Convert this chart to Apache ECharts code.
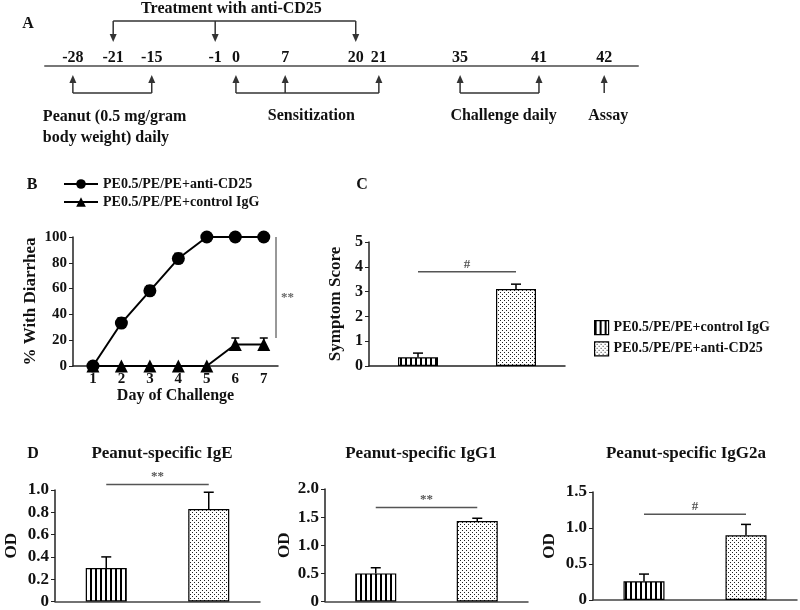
<!DOCTYPE html>
<html><head><meta charset="utf-8">
<script src="https://cdn.jsdelivr.net/npm/echarts@6/dist/echarts.min.js"></script>
<style>html,body{margin:0;background:#fff}#c{width:800px;height:610px}</style>
</head><body><div id="c"></div>
<script>
// ================= DATA =================
const N_ANTI = 'PE0.5/PE/PE+anti-CD25';
const N_CTRL = 'PE0.5/PE/PE+control IgG';

// Panel A (protocol timeline)
const timelineDays = [-28, -21, -15, -1, 0, 7, 20, 21, 35, 41, 42];
const treatmentTitle = 'Treatment with anti-CD25';
const treatmentDays = [-21, -1, 20];
const phaseNames = ['Peanut (0.5 mg/gram\nbody weight) daily', 'Sensitization', 'Challenge daily', 'Assay'];
const phaseDays = [[-28, -15], [0, 7, 21], [35, 41], [42]];

// Panel B
const challengeDays = [1, 2, 3, 4, 5, 6, 7];
const diarrheaAnti = [0, 33.3, 58.3, 83.3, 100, 100, 100];
const diarrheaAntiErr = [0, 4, 4, 4, 0, 0, 0];
const diarrheaCtrl = [0, 0, 0, 0, 0, 16.7, 16.7];
const diarrheaCtrlErr = [0, 0, 0, 0, 0, 5, 5];

// Panel C
const symptomMean = [0.35, 3.1];   // [control IgG, anti-CD25]
const symptomErr = [0.17, 0.2];

// Panel D
const igTitles = ['Peanut-specific IgE', 'Peanut-specific IgG1', 'Peanut-specific IgG2a'];
const igMean = [[0.30, 0.83], [0.50, 1.43], [0.26, 0.90]];
const igErr = [[0.10, 0.15], [0.10, 0.05], [0.10, 0.15]];
const igMax = [1.0, 2.0, 1.5];
const igStep = [0.2, 0.5, 0.5];

// Significance marks: B, C, IgE, IgG1, IgG2a
const sigMarks = ['**', '#', '**', '**', '#'];
const sigLevels = [null, 3.8, 1.05, 1.67, 1.19];

// ================= LAYOUT / STYLE =================
const FONT = 'Liberation Serif';
const TXT = '#111';
// schematic placement of each day along the drawn timeline (0-100 units)
const A_SLOT = {'-28': 4.7, '-21': 11.5, '-15': 18.0, '-1': 28.7, '0': 32.2, '7': 40.5,
                '20': 52.4, '21': 56.3, '35': 70.0, '41': 83.3, '42': 94.3};
const GRIDS = [
  {left: 45, top: 20, width: 593, height: 46},    // A
  {left: 73, top: 237, width: 205, height: 129},  // B
  {left: 369, top: 242, width: 196, height: 124}, // C
  {left: 55, top: 490, width: 205, height: 113},  // D IgE
  {left: 325, top: 489, width: 203, height: 114}, // D IgG1
  {left: 593, top: 492, width: 204, height: 108}  // D IgG2a
];

function makeStripe() {
  const c = document.createElement('canvas'); c.width = 5; c.height = 5;
  const g = c.getContext('2d'); g.fillStyle = '#fff'; g.fillRect(0, 0, 5, 5);
  g.fillStyle = '#000'; g.fillRect(0, 0, 2, 5); return c;
}
function makeDots() {
  const c = document.createElement('canvas'); c.width = 4; c.height = 4;
  const g = c.getContext('2d'); g.fillStyle = '#fff'; g.fillRect(0, 0, 4, 4);
  g.fillStyle = '#222'; g.fillRect(0, 0, 1, 1); g.fillRect(2, 2, 1, 1); return c;
}
const stripeFill = {image: makeStripe(), repeat: 'repeat'};
const dotFill = {image: makeDots(), repeat: 'repeat'};
const barStyleCtrl = {color: stripeFill, borderColor: '#000', borderWidth: 1.2};
const barStyleAnti = {color: dotFill, borderColor: '#000', borderWidth: 1.2};

const boldText = (size) => ({fontFamily: FONT, fontWeight: 'bold', fontSize: size, color: TXT});
const fmt1 = v => v === 0 ? '0' : v.toFixed(1);

// ================= AXES =================
const xAxes = [], yAxes = [];
const slotValues = timelineDays.map(d => A_SLOT[String(d)]);
// A
xAxes.push({gridIndex: 0, type: 'value', min: 0, max: 100,
  axisLine: {lineStyle: {color: '#777', width: 2}}, axisTick: {show: false}, splitLine: {show: false},
  axisLabel: Object.assign({inside: true, margin: 0, customValues: slotValues,
    formatter: v => { const i = slotValues.indexOf(v); return i >= 0 ? String(timelineDays[i]) : ''; }}, boldText(16))});
yAxes.push({gridIndex: 0, type: 'value', min: 0, max: 1, show: false});
// B
xAxes.push({gridIndex: 1, type: 'value', min: 0.3, max: 7.5,
  axisLine: {lineStyle: {color: '#222', width: 1.5}}, axisTick: {show: false}, splitLine: {show: false},
  axisLabel: Object.assign({customValues: challengeDays, margin: 6}, boldText(15)),
  name: 'Day of Challenge', nameLocation: 'middle', nameGap: 22, nameTextStyle: boldText(16)});
yAxes.push({gridIndex: 1, type: 'value', min: 0, max: 100, interval: 20,
  axisLine: {show: true, lineStyle: {color: '#222', width: 1.5}}, axisTick: {show: true, length: 4, lineStyle: {color: '#222'}},
  splitLine: {show: false}, axisLabel: Object.assign({margin: 6}, boldText(15)),
  name: '% With Diarrhea', nameLocation: 'middle', nameRotate: 90, nameGap: 34, nameTextStyle: boldText(17)});
// C
xAxes.push({gridIndex: 2, type: 'category', data: [N_CTRL, N_ANTI],
  axisLine: {lineStyle: {color: '#222', width: 1.5}}, axisTick: {show: false}, axisLabel: {show: false}});
yAxes.push({gridIndex: 2, type: 'value', min: 0, max: 5, interval: 1,
  axisLine: {show: true, lineStyle: {color: '#222', width: 1.5}}, axisTick: {show: true, length: 4, lineStyle: {color: '#222'}},
  splitLine: {show: false}, axisLabel: Object.assign({margin: 6}, boldText(16)),
  name: 'Symptom Score', nameLocation: 'middle', nameRotate: 90, nameGap: 25, nameTextStyle: boldText(17)});
// D
const odGaps = [35, 32, 35];
for (let k = 0; k < 3; k++) {
  xAxes.push({gridIndex: 3 + k, type: 'category', data: [N_CTRL, N_ANTI],
    axisLine: {lineStyle: {color: '#444', width: 1.5}}, axisTick: {show: false}, axisLabel: {show: false}});
  yAxes.push({gridIndex: 3 + k, type: 'value', min: 0, max: igMax[k], interval: igStep[k],
    axisLine: {show: true, lineStyle: {color: '#222', width: 1.5}}, axisTick: {show: true, length: 4, lineStyle: {color: '#222'}},
    splitLine: {show: false}, axisLabel: Object.assign({margin: 6, formatter: fmt1}, boldText(17)),
    name: 'OD', nameLocation: 'middle', nameRotate: 90, nameGap: odGaps[k], nameTextStyle: boldText(17)});
}

// ================= SERIES =================
const series = [];
// B lines (first so legend B uses line icons)
series.push({type: 'line', name: N_ANTI, xAxisIndex: 1, yAxisIndex: 1, z: 3,
  data: challengeDays.map((d, i) => [d, diarrheaAnti[i]]), symbol: 'circle', symbolSize: 13,
  itemStyle: {color: '#000'}, lineStyle: {color: '#000', width: 2}});
series.push({type: 'line', name: N_CTRL, xAxisIndex: 1, yAxisIndex: 1, z: 3,
  data: challengeDays.map((d, i) => [d, diarrheaCtrl[i]]), symbol: 'triangle', symbolSize: 13,
  itemStyle: {color: '#000'}, lineStyle: {color: '#000', width: 2}});

function errorSeries(axisIdx, points, capHalf) {
  return {type: 'custom', xAxisIndex: axisIdx, yAxisIndex: axisIdx, z: 1, clip: false, silent: true,
    data: points,
    renderItem: (params, api) => {
      const x = api.value(0), top = api.value(1), err = api.value(2);
      if (!err) return null;
      const p0 = api.coord([x, top]), p1 = api.coord([x, top + err]);
      const st = {stroke: '#000', lineWidth: 1.5};
      return {type: 'group', children: [
        {type: 'line', shape: {x1: p0[0], y1: p0[1], x2: p1[0], y2: p1[1]}, style: st},
        {type: 'line', shape: {x1: p1[0] - capHalf, y1: p1[1], x2: p1[0] + capHalf, y2: p1[1]}, style: st}]};
    }};
}
series.push(errorSeries(1, challengeDays.map((d, i) => [d, diarrheaAnti[i], diarrheaAntiErr[i]]), 4));
series.push(errorSeries(1, challengeDays.map((d, i) => [d, diarrheaCtrl[i], diarrheaCtrlErr[i]]), 4));

// B significance (vertical bar right of last day)
{
  const last = challengeDays.length - 1;
  series.push({type: 'custom', xAxisIndex: 1, yAxisIndex: 1, clip: false, silent: true,
    data: [[challengeDays[last] + 0.43, diarrheaAnti[last], diarrheaCtrl[last] + diarrheaCtrlErr[last]]],
    renderItem: (params, api) => {
      const a = api.coord([api.value(0), api.value(1)]), b = api.coord([api.value(0), api.value(2)]);
      return {type: 'group', children: [
        {type: 'line', shape: {x1: a[0], y1: a[1], x2: b[0], y2: b[1]}, style: {stroke: '#777', lineWidth: 1.5}},
        {type: 'text', x: a[0] + 5, y: (a[1] + b[1]) / 2 + 10,
          style: {text: sigMarks[0], fill: '#666', font: 'bold 13px ' + FONT, align: 'left', verticalAlign: 'middle'}}]};
    }});
}

function barPair(axisIdx, mean, barW) {
  return [
    {type: 'bar', name: N_CTRL, xAxisIndex: axisIdx, yAxisIndex: axisIdx, data: [mean[0], '-'],
      barWidth: barW, barGap: '-100%', itemStyle: barStyleCtrl, silent: true},
    {type: 'bar', name: N_ANTI, xAxisIndex: axisIdx, yAxisIndex: axisIdx, data: ['-', mean[1]],
      barWidth: barW, barGap: '-100%', itemStyle: barStyleAnti, silent: true}];
}
function sigSeries(axisIdx, level, mark) {
  return {type: 'custom', xAxisIndex: axisIdx, yAxisIndex: axisIdx, clip: false, silent: true,
    data: [[0, level, 1]],
    renderItem: (params, api) => {
      const a = api.coord([api.value(0), api.value(1)]), b = api.coord([api.value(2), api.value(1)]);
      return {type: 'group', children: [
        {type: 'line', shape: {x1: a[0], y1: a[1], x2: b[0], y2: b[1]}, style: {stroke: '#555', lineWidth: 1.5}},
        {type: 'text', x: (a[0] + b[0]) / 2, y: a[1] - 1,
          style: {text: mark, fill: '#555', font: 'bold 13px ' + FONT, align: 'center', verticalAlign: 'bottom'}}]};
    }};
}
// C
series.push(...barPair(2, symptomMean, 40));
series.push(errorSeries(2, [[0, symptomMean[0], symptomErr[0]], [1, symptomMean[1], symptomErr[1]]], 5));
series.push(sigSeries(2, sigLevels[1], sigMarks[1]));
// D
for (let k = 0; k < 3; k++) {
  series.push(...barPair(3 + k, igMean[k], 41));
  series.push(errorSeries(3 + k, [[0, igMean[k][0], igErr[k][0]], [1, igMean[k][1], igErr[k][1]]], 5));
  series.push(sigSeries(3 + k, sigLevels[2 + k], sigMarks[2 + k]));
}

// A: protocol schematic, placed on the timeline axis
series.push({type: 'custom', xAxisIndex: 0, yAxisIndex: 0, clip: false, silent: true, data: [[0, 0]],
  renderItem: (params, api) => {
    const base = api.coord([0, 0])[1];
    const X = d => api.coord([A_SLOT[String(d)], 0])[0];
    const stroke = '#333';
    const kids = [];
    const ln = (x1, y1, x2, y2) => kids.push({type: 'line', shape: {x1, y1, x2, y2}, style: {stroke, lineWidth: 1.5}});
    const head = (x, y, dir) => kids.push({type: 'polygon',
      shape: {points: [[x, y], [x - 3.5, y - 8 * dir], [x + 3.5, y - 8 * dir]]}, style: {fill: stroke}});
    const txt = (x, y, t, align, va, lh) => kids.push({type: 'text', x, y,
      style: {text: t, fill: TXT, font: 'bold 16px ' + FONT, align, verticalAlign: va, lineHeight: lh || 18}});
    // treatment bracket above
    const tx = treatmentDays.map(X);
    const yTop = base - 45, yTipD = base - 24;
    ln(tx[0], yTop, tx[tx.length - 1], yTop);
    tx.forEach(x => { ln(x, yTop, x, yTipD - 6); head(x, yTipD, 1); });
    txt((tx[0] + tx[tx.length - 1]) / 2 - 3, base - 57, treatmentTitle, 'center', 'middle');
    // phases below
    const yB = base + 27, yTipU = base + 9;
    phaseDays.forEach((days, i) => {
      const xs = days.map(X);
      if (xs.length > 1) ln(xs[0], yB, xs[xs.length - 1], yB);
      xs.forEach(x => { ln(x, yB, x, yTipU + 6); head(x, yTipU, -1); });
      const mid = (xs[0] + xs[xs.length - 1]) / 2;
      if (phaseNames[i].indexOf('\n') >= 0) txt(xs[0] - 30, base + 40, phaseNames[i], 'left', 'top', 21);
      else txt(mid + 4, base + 50, phaseNames[i], 'center', 'middle');
    });
    return {type: 'group', children: kids};
  }});

// ================= GRAPHIC TEXT (panel letters, panel D titles) =================
const letters = [['A', 28, 24], ['B', 32, 185], ['C', 362, 185], ['D', 33, 454]];
const titleX = [162, 421, 686];
const graphic = letters.map(([t, x, y]) => ({type: 'text', x, y,
  style: {text: t, fill: TXT, font: 'bold 16px ' + FONT, align: 'center', verticalAlign: 'middle'}}))
  .concat(igTitles.map((t, k) => ({type: 'text', x: titleX[k], y: 454,
  style: {text: t, fill: TXT, font: 'bold 17px ' + FONT, align: 'center', verticalAlign: 'middle'}})));

const chart = echarts.init(document.getElementById('c'), null, {renderer: 'canvas'});
chart.setOption({
  animation: false,
  backgroundColor: '#fff',
  grid: GRIDS,
  xAxis: xAxes,
  yAxis: yAxes,
  legend: [
    {data: [N_ANTI, N_CTRL], left: 63, top: 177, orient: 'vertical', itemWidth: 34, itemHeight: 12,
      itemGap: 4, padding: 0, selectedMode: false, textStyle: boldText(14)},
    {data: [{name: N_CTRL, icon: 'rect', itemStyle: barStyleCtrl}, {name: N_ANTI, icon: 'rect', itemStyle: barStyleAnti}],
      left: 594, top: 320, orient: 'vertical', itemWidth: 14, itemHeight: 14, itemGap: 6, padding: 0,
      selectedMode: false, textStyle: boldText(14)}
  ],
  graphic: graphic,
  series: series
});
</script></body></html>
